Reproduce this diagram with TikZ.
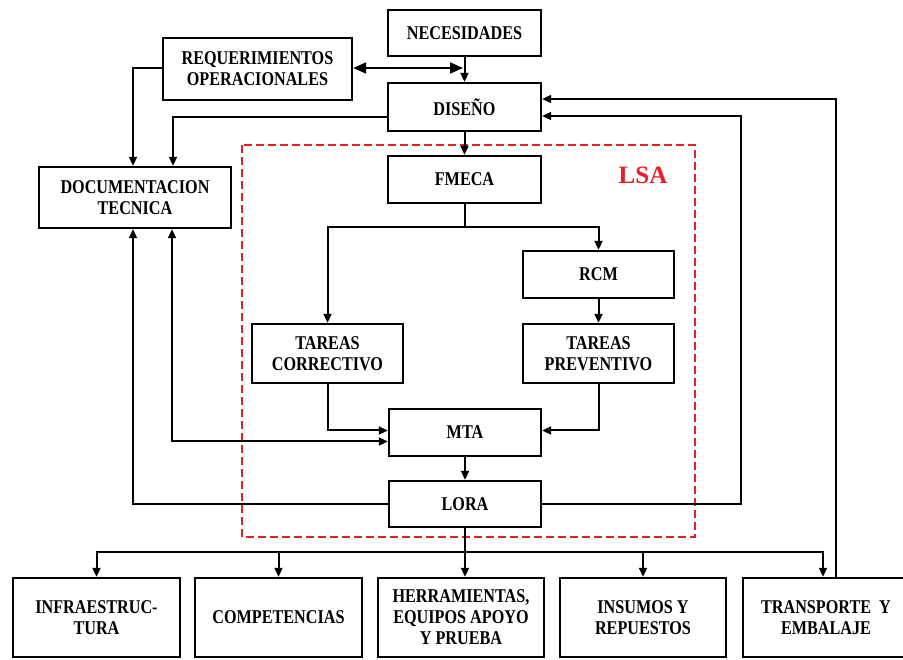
\documentclass[tikz,border=0pt]{standalone}
\usepackage{fontspec}
\setmainfont{Liberation Serif}[FakeStretch=0.83]
\newfontfamily\lsafont{Liberation Serif}
\usetikzlibrary{arrows.meta,calc}
\definecolor{lsared}{RGB}{232,32,38}
\begin{document}
\begin{tikzpicture}[x=1pt,y=-1pt,
  box/.style={draw,fill=white,line width=2.4pt,inner sep=0pt,align=center,
    font=\bfseries\fontsize{19.5}{21}\selectfont},
  conn/.style={line width=2pt,-{Triangle[length=9pt,width=8pt]}},
  plain/.style={line width=2pt},
  dbl/.style={line width=2pt,{Triangle[length=9pt,width=8pt]}-{Triangle[length=9pt,width=8pt]}},
  bigdbl/.style={line width=2pt,{Triangle[length=13pt,width=11pt]}-{Triangle[length=13pt,width=11pt]}}]
\useasboundingbox (0,0) rectangle (903,660);
\fill[white] (0,0) rectangle (903,660);

% LSA frame
\draw[lsared,line width=2.2pt,dash pattern=on 8pt off 4pt] (242,145) rectangle (695,537);
\node[text=lsared,font=\lsafont\bfseries\fontsize{25}{25}\selectfont] (lsa) at (643,175) {LSA};

% boxes
\node[box,minimum width=153pt,minimum height=46pt] (nec) at (464.5,33) {NECESIDADES};
\node[box,minimum width=189pt,minimum height=62pt] (req) at (257.5,69) {REQUERIMIENTOS\\OPERACIONALES};
\node[box,minimum width=153pt,minimum height=48pt] (dis) at (464.5,107) {DISEÑO};
\node[box,minimum width=153pt,minimum height=47pt] (fme) at (464.5,179.5) {FMECA};
\node[box,minimum width=192pt,minimum height=61pt] (doc) at (135,197.5) {DOCUMENTACION\\TECNICA};
\node[box,minimum width=151pt,minimum height=47pt] (rcm) at (598.5,274.5) {RCM};
\node[box,minimum width=151pt,minimum height=59pt] (cor) at (327.5,353.5) {TAREAS\\CORRECTIVO};
\node[box,minimum width=151pt,minimum height=59pt] (pre) at (598.5,353.5) {TAREAS\\PREVENTIVO};
\node[box,minimum width=152pt,minimum height=47pt] (mta) at (465,432.5) {MTA};
\node[box,minimum width=152pt,minimum height=46pt] (lor) at (465,504) {LORA};

\node[box,minimum width=167pt,minimum height=79pt] (inf) at (96.5,617.5) {INFRAESTRUC-\\TURA};
\node[box,minimum width=167pt,minimum height=79pt] (com) at (278.5,617.5) {COMPETENCIAS};
\node[box,minimum width=166pt,minimum height=79pt] (her) at (461,617.5) {HERRAMIENTAS,\\EQUIPOS APOYO\\Y PRUEBA};
\node[box,minimum width=166pt,minimum height=79pt] (ins) at (643,617.5) {INSUMOS Y\\REPUESTOS};
\node[box,minimum width=166pt,minimum height=79pt] (tra) at (826,617.5) {TRANSPORTE \ Y\\EMBALAJE};

% helper coordinates
\coordinate (j1) at (463,68);
\coordinate (ybr) at (0,227);
\coordinate (rt) at (741,116);
\coordinate (rt2) at (836,99);
\coordinate (ybus) at (0,552);

% connectors
\draw[conn] (nec.south) -- (dis.north);
\draw[bigdbl] (req.east |- j1) -- (j1);
\draw[conn] (req.west |- j1) -| ($(doc.north)+(-2,0)$);
\draw[conn] ($(dis.west)+(0,10)$) -| ($(doc.north)+(38,0)$);
\draw[conn] (dis.south) -- (fme.north);
\draw[plain] (fme.south) -- (fme.south |- ybr);
\draw[conn] (fme.south |- ybr) -| (cor.north);
\draw[conn] (fme.south |- ybr) -| (rcm.north);
\draw[conn] (rcm.south) -- (pre.north);
\draw[conn] (cor.south) |- ($(mta.west)+(0,-2)$);
\draw[conn] (pre.south) |- ($(mta.east)+(0,-2)$);
\draw[dbl] ($(doc.south)+(37,0)$) |- ($(mta.west)+(0,9)$);
\draw[conn] (mta.south) -- (lor.north);
\draw[conn] (lor.west) -| ($(doc.south)+(-2,0)$);
\draw[conn] (lor.east) -| (rt) -- (rt -| dis.east);
\draw[conn] ($(tra.north)+(10,0)$) -- (rt2) -- (rt2 -| dis.east);

% distribution bus
\draw[conn] (lor.south) -- (lor.south |- her.north);
\draw[conn] (lor.south |- ybus) -| (inf.north);
\draw[conn] (lor.south |- ybus) -| (com.north);
\draw[conn] (lor.south |- ybus) -| (ins.north);
\draw[conn] (lor.south |- ybus) -| ($(tra.north)+(-3,0)$);
\end{tikzpicture}
\end{document}
